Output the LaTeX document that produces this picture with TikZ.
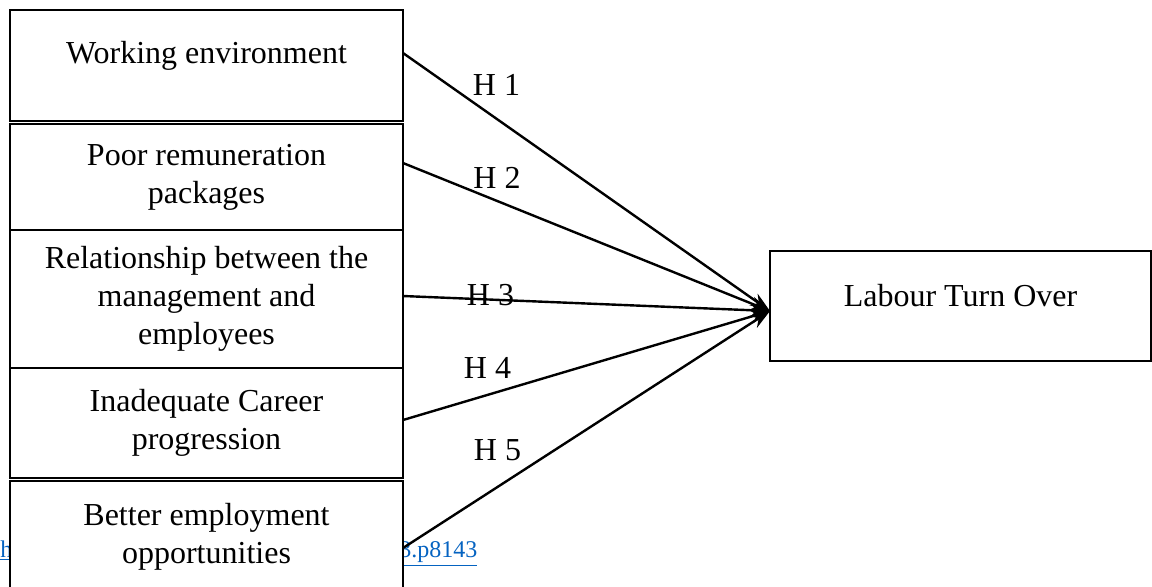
\documentclass[tikz,border=0pt]{standalone}
\usepackage{fontspec}
\setmainfont{Liberation Serif}
\usetikzlibrary{arrows.meta, positioning}
\definecolor{linkblue}{HTML}{0563C1}

\begin{document}
\begin{tikzpicture}[x=0.5pt, y=-0.5pt, node distance=0pt, font=\fontsize{16}{19}\selectfont,
  factor/.style={rectangle, draw, line width=1.2pt, fill=white, outer sep=0pt, inner sep=2pt, align=center, minimum width=196.5pt},
  hyp/.style={-{Stealth[length=10pt, width=7pt]}, line width=1.2pt},
  link/.style={text=linkblue, font=\fontsize{12}{14}\selectfont, inner sep=0pt, anchor=base west}]

\useasboundingbox (0,0) rectangle (1152,586);
\clip (0,0) rectangle (1152,586);

% footer link, mostly behind the last box
\node[link] (U1) at (0,557) {\underline{h}};
\node[link] (U2) at (399,557) {\underline{3.p8143}};

\node[factor, anchor=north west, minimum height=55.5pt, text height=11pt, text depth=13.5pt] (F1) at (10,10) {Working environment};
\node[factor, below=1.5pt of F1, minimum height=53pt] (F2) {Poor remuneration\\packages};
\node[factor, below=of F2, minimum height=69pt] (F3) {Relationship between the\\management and\\employees};
\node[factor, below=of F3, minimum height=55pt] (F4) {Inadequate Career\\progression};
\node[factor, below=1.5pt of F4, minimum height=55.5pt] (F5) {Better employment\\opportunities};

\node[factor, minimum width=190.5pt, minimum height=55pt, text height=11pt, text depth=10.5pt] (LTO) at (960.5,306) {Labour Turn Over};

\draw[hyp] ([yshift=6.25pt]F1.east) -- ([yshift=-2.5pt]LTO.west);
\draw[hyp] ([yshift=7pt]F2.east) -- ([yshift=-2.5pt]LTO.west);
\draw[hyp] ([yshift=1.5pt]F3.east) -- ([yshift=-2.5pt]LTO.west);
\draw[hyp] ([yshift=1.5pt]F4.east) -- ([yshift=-2.5pt]LTO.west);
\draw[hyp] ([yshift=-5.75pt]F5.east) -- ([yshift=-2.5pt]LTO.west);

\node[anchor=base] (H1) at (496.5,95) {H 1};
\node[anchor=base] (H2) at (497,188) {H 2};
\node[anchor=base] (H3) at (490.5,305) {H 3};
\node[anchor=base] (H4) at (487.5,378) {H 4};
\node[anchor=base] (H5) at (497.5,460) {H 5};

\end{tikzpicture}
\end{document}
